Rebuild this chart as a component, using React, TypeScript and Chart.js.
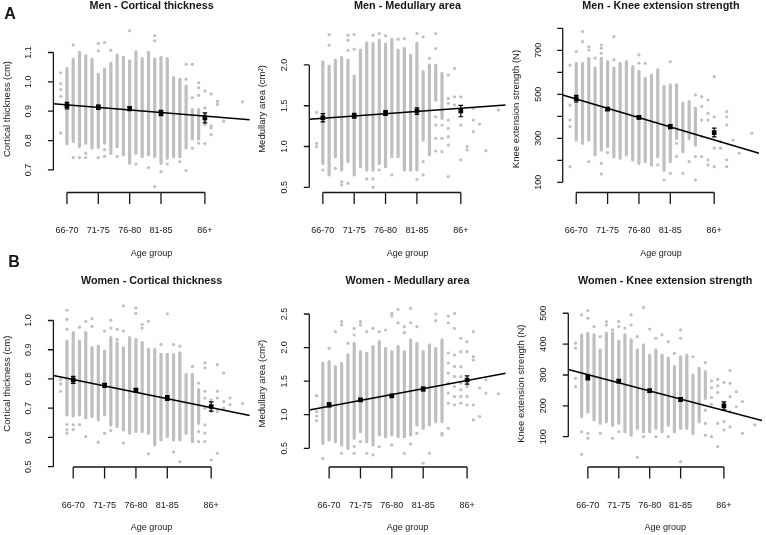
import React, { useEffect, useRef } from 'react';
import { Chart, registerables } from 'chart.js';

Chart.register(...registerables);

const W = 766;
const H = 535;

// ---------- shared categories ----------
const groupAges = [68, 73, 78, 83, 90];
const groupLabels = ['66-70', '71-75', '76-80', '81-85', '86+'];
const menAges = [67, 68, 69, 70, 71, 72, 73, 74, 75, 76, 77, 78, 79, 80, 81, 82, 83, 84, 85, 86, 87, 88, 89, 90, 91, 92, 93, 94, 95, 96];
const womenAges = [66, 67, 68, 69, 70, 71, 72, 73, 74, 75, 76, 77, 78, 79, 80, 81, 82, 83, 84, 85, 86, 87, 88, 89, 90, 91, 92, 93, 94, 95];
const menXRange = [65.84, 97.16];
const womenXRange = [64.84, 96.16];

// ---------- Men - Cortical thickness ----------
const menCtLo = [null, 0.783, 0.791, 0.774, 0.786, 0.769, 0.772, 0.786, 0.751, 0.774, 0.746, 0.717, 0.751, 0.74, 0.746, 0.74, 0.717, 0.734, 0.74, 0.74, 0.769, 0.8, 0.8, null, null, null, null, null, null, null];
const menCtHi = [null, 1.051, 1.083, 1.106, 1.094, 1.083, 1.031, 1.049, 1.069, 1.097, 1.089, 1.077, 1.108, 1.085, 1.106, 1.083, 1.089, 1.085, 1.02, 1.014, 0.991, 0.911, 0.911, null, null, null, null, null, null, null];
const menCtDots = [
  [1.031, 0.994, 0.974, 0.951, 0.826], [], [1.126, 0.742], [0.742], [0.757, 0.742], [], [1.131, 1.106, 0.742],
  [1.134, 0.769, 0.746], [1.108], [0.746], [], [1.174], [0.72], [], [0.708], [1.157, 1.14, 0.643], [0.694],
  [0.72], [], [0.728], [1.06, 1.009, 0.698], [1.06, 0.946, 0.83, 0.774], [0.997, 0.98, 0.954, 0.791],
  [0.969, 0.911, 0.889, 0.866, 0.854, 0.79], [0.959, 0.85, 0.843, 0.82], [0.934, 0.923], [0.866], [], [], [0.932],
];
const menCtMean = [0.919, 0.914, 0.909, 0.894, 0.877];
const menCtCi = [0.011, 0.007, 0.007, 0.009, 0.017];
const menCtLine = [0.925, 0.871];
const menCtTicks = [0.7, 0.8, 0.9, 1.0, 1.1];
const menCtTickLabels = ['0.7', '0.8', '0.9', '1.0', '1.1'];

// ---------- Men - Medullary area ----------
const menMaLo = [null, 0.773, 0.631, 0.855, 0.692, 0.794, 0.631, 0.733, 0.692, 0.692, 0.773, 0.733, 0.855, 0.855, 0.692, 0.692, 0.692, 1.059, 0.876, 1.549, 1.324, null, null, null, null, null, null, null, null, null];
const menMaHi = [null, 2.059, 2.006, 2.08, 2.112, 2.08, 1.884, 2.202, 2.292, 2.284, 2.324, 2.276, 2.333, 2.202, 2.222, 2.141, 2.284, 1.937, 2.018, 2.018, 1.916, null, null, null, null, null, null, null, null, null];
const menMaDots = [
  [1.418, 1.039, 0.998], [0.712], [2.373, 2.243], [0.733], [0.569, 0.529], [2.365, 2.304, 2.18, 0.549],
  [2.373, 2.194], [], [0.602], [2.365, 0.602, 0.5], [2.386, 0.712], [2.357], [0.651], [2.316], [2.324], [],
  [2.386, 0.598], [2.345, 0.814, 0.651], [2.08], [2.386, 2.202, 1.365, 1.263, 1.1, 0.945], [1.263, 1.1, 0.937],
  [1.876, 1.59, 1.529, 1.324, 1.222, 1.12, 1.018, 0.631], [1.957, 1.61, 1.508], [1.61, 1.263, 0.835],
  [0.998, 0.957], [1.467, 1.324, 1.182], [1.276], [0.949], [], [1.447],
];
const menMaMean = [1.353, 1.378, 1.41, 1.435, 1.435];
const menMaCi = [0.05, 0.03, 0.03, 0.04, 0.07];
const menMaLine = [1.333, 1.508];
const menMaTicks = [0.5, 1.0, 1.5, 2.0];
const menMaTickLabels = ['0.5', '1.0', '1.5', '2.0'];

// ---------- Men - Knee extension strength ----------
const menKsLo = [null, 285, 270, 285, 217, 239, 255, 209, 202, 217, 194, 179, 186, 171, 209, 148, 186, 292, 232, 292, 262, null, null, null, null, null, null, null, null, null];
const menKsHi = [null, 648, 648, 671, 626, 671, 656, 626, 648, 656, 633, 611, 580, 595, 618, 542, 550, 550, 467, 474, 444, null, null, null, null, null, null, null, null, null];
const menKsDots = [
  [633, 451, 383, 353, 171], [694], [785, 739], [717, 701, 194], [664], [724, 709, 686, 186, 138], [235],
  [762, 656], [], [], [], [679, 641], [641], [], [179], [111], [648, 141], [277, 217], [141], [194],
  [497, 217, 111], [489, 444, 383, 308, 217], [474, 414, 383, 202, 179], [580, 398, 255, 171], [285, 255],
  [421, 398, 361, 202, 171], [292], [232], [], [323],
];
const menKsMean = [480, 433, 395, 353, 326];
const menKsCi = [15, 7, 7, 9, 20];
const menKsLine = [497, 232];
const menKsTicks = [100, 200, 300, 400, 500, 600, 700, 800];
const menKsTickLabels = ['100', '', '300', '', '500', '', '700', ''];

// ---------- Women - Cortical thickness ----------
const womenCtLo = [null, 0.672, 0.668, 0.672, 0.661, 0.666, 0.655, 0.672, 0.637, 0.632, 0.62, 0.609, 0.615, 0.615, 0.609, 0.569, 0.586, 0.598, 0.586, 0.586, 0.609, 0.58, 0.643, null, null, null, null, null, null, null];
const womenCtHi = [null, 0.935, 0.964, 0.935, 0.964, 0.913, 0.918, 0.901, 0.947, 0.929, 0.912, 0.947, 0.941, 0.93, 0.907, 0.907, 0.89, 0.89, 0.89, 0.895, 0.821, 0.821, 0.769, null, null, null, null, null, null, null];
const womenCtDots = [
  [0.798, 0.783, 0.758], [1.035, 1.004, 0.97, 0.644, 0.626, 0.614], [0.643, 0.627], [0.977, 0.644], [0.997, 0.603],
  [1.006, 0.98], [0.584], [0.964, 0.614], [1.001, 0.974, 0.624], [0.97, 0.935], [1.05, 0.964, 0.581], [],
  [1.042, 1.024], [0.987, 0.974], [0.997, 0.544], [], [0.918], [1.023], [0.918, 0.551], [0.912, 0.517], [],
  [0.843], [0.786, 0.62, 0.586], [0.855, 0.838, 0.758, 0.735, 0.7, 0.643, 0.615, 0.586], [0.729, 0.706, 0.689, 0.523],
  [0.849, 0.758, 0.735, 0.689, 0.546], [0.82, 0.723, 0.7], [0.735, 0.712], [], [0.716],
];
const womenCtMean = [0.797, 0.778, 0.761, 0.735, 0.706];
const womenCtCi = [0.012, 0.007, 0.007, 0.008, 0.016];
const womenCtLine = [0.812, 0.675];
const womenCtTicks = [0.5, 0.6, 0.7, 0.8, 0.9, 1.0];
const womenCtTickLabels = ['0.5', '0.6', '0.7', '0.8', '0.9', '1.0'];

// ---------- Women - Medullary area ----------
const womenMaLo = [null, 0.55, 0.6, 0.575, 0.525, 0.475, 0.624, 0.723, 0.574, 0.525, 0.674, 0.649, 0.674, 0.649, 0.649, 0.674, 0.823, 0.774, 0.823, 0.872, 0.872, null, null, null, null, null, null, null, null, null];
const womenMaHi = [null, 1.79, 1.816, 1.742, 1.79, 1.914, 2.087, 1.964, 1.939, 2.038, 2.112, 2.013, 1.964, 2.038, 1.964, 2.138, 2.088, 1.964, 2.063, 2.014, 2.138, null, null, null, null, null, null, null, null, null];
const womenMaDots = [
  [1.284, 1.045, 0.98, 0.912], [0.351], [1.989], [2.237], [2.386, 2.337, 0.426], [2.063], [2.286, 2.187, 0.525, 0.426],
  [2.386, 2.337, 0.599], [2.237, 0.426], [2.286, 0.401], [2.237, 0.525], [2.262], [2.509, 2.47, 0.55], [2.569, 2.37],
  [2.311, 2.222, 0.426], [2.584, 2.37, 0.565], [2.311, 0.723], [0.277], [0.426], [2.5, 2.4], [0.723, 0.698],
  [2.47, 2.37, 1.919, 1.77, 1.62, 1.471, 1.322, 1.172, 0.798], [2.509, 2.286, 1.889, 1.72, 1.57, 1.42, 1.27, 1.148],
  [2.138, 1.939, 1.716, 1.566, 1.471, 1.372, 1.272, 1.172], [2.088, 1.939, 1.422, 1.272, 1.148],
  [2.237, 1.864, 1.814, 1.148, 0.922], [1.397, 0.972], [1.521, 1.322], [], [1.312],
];
const womenMaMean = [1.145, 1.22, 1.28, 1.383, 1.517];
const womenMaCi = [0.03, 0.02, 0.02, 0.03, 0.062];
const womenMaLine = [1.07, 1.617];
const womenMaTicks = [0.5, 1.0, 1.5, 2.0, 2.5];
const womenMaTickLabels = ['0.5', '1.0', '1.5', '2.0', '2.5'];

// ---------- Women - Knee extension strength ----------
const womenKsLo = [null, 160, 175, 149, 138, 143, 132, 138, 111, 100, 122, 111, 111, 122, 111, 132, 111, 122, 122, 105, 143, 219, null, null, null, null, null, null, null, null];
const womenKsHi = [null, 435, 440, 435, 387, 441, 441, 414, 435, 419, 387, 403, 370, 387, 370, 360, 332, 365, 370, 305, 327, 316, null, null, null, null, null, null, null, null];
const womenKsDots = [
  [403, 387, 289, 262], [495, 116, 43], [509, 484, 111, 95], [457], [424, 111], [473, 462], [446, 95],
  [473, 457, 116], [452], [495, 462], [424, 33], [519, 100], [449], [419, 100], [430], [408, 100], [370],
  [446, 419, 19], [], [359], [], [340, 186, 143, 105], [281, 259, 227, 205, 100], [286, 265, 243, 143, 68],
  [276, 211, 200, 149, 122], [314, 273, 230, 181, 132], [246, 197], [214, 111], [], [138],
];
const womenKsMean = [292, 280, 249, 221, 200];
const womenKsCi = [8, 5, 5, 6, 13];
const womenKsLine = [318, 152];
const womenKsTicks = [100, 200, 300, 400, 500];
const womenKsTickLabels = ['100', '200', '300', '400', '500'];

// ---------- panel layout ----------
type Panel = {
  title: string;
  yTitle: string;
  letter?: string;
  letterPos?: number[];
  ages: number[];
  xRange: number[];
  yRange: number[];
  lo: (number | null)[];
  hi: (number | null)[];
  dots: number[][];
  mean: number[];
  ci: number[];
  line: number[];
  ticks: number[];
  tickLabels: string[];
  box: number[]; // left, top, right, bottom (pixels)
};

const TOP_ROW = [25.5, 192.5];
const BOT_ROW = [300.3, 467];

const panels: Panel[] = [
  {
    title: 'Men - Cortical thickness', yTitle: 'Cortical thickness (cm)', letter: 'A', letterPos: [10, 15],
    ages: menAges, xRange: menXRange, yRange: [0.623, 1.192],
    lo: menCtLo, hi: menCtHi, dots: menCtDots, mean: menCtMean, ci: menCtCi, line: menCtLine,
    ticks: menCtTicks, tickLabels: menCtTickLabels, box: [53.4, TOP_ROW[0], 249.8, TOP_ROW[1]],
  },
  {
    title: 'Men - Medullary area', yTitle: 'Medullary area (cm\u00B2)',
    ages: menAges, xRange: menXRange, yRange: [0.436, 2.484],
    lo: menMaLo, hi: menMaHi, dots: menMaDots, mean: menMaMean, ci: menMaCi, line: menMaLine,
    ticks: menMaTicks, tickLabels: menMaTickLabels, box: [309.3, TOP_ROW[0], 505.7, TOP_ROW[1]],
  },
  {
    title: 'Men - Knee extension strength', yTitle: 'Knee extension strength (N)',
    ages: menAges, xRange: menXRange, yRange: [53.6, 812.7],
    lo: menKsLo, hi: menKsHi, dots: menKsDots, mean: menKsMean, ci: menKsCi, line: menKsLine,
    ticks: menKsTicks, tickLabels: menKsTickLabels, box: [562.7, TOP_ROW[0], 759.1, TOP_ROW[1]],
  },
  {
    title: 'Women - Cortical thickness', yTitle: 'Cortical thickness (cm)', letter: 'B', letterPos: [14, 263],
    ages: womenAges, xRange: womenXRange, yRange: [0.499, 1.069],
    lo: womenCtLo, hi: womenCtHi, dots: womenCtDots, mean: womenCtMean, ci: womenCtCi, line: womenCtLine,
    ticks: womenCtTicks, tickLabels: womenCtTickLabels, box: [53.4, BOT_ROW[0], 249.8, BOT_ROW[1]],
  },
  {
    title: 'Women - Medullary area', yTitle: 'Medullary area (cm\u00B2)',
    ages: womenAges, xRange: womenXRange, yRange: [0.2215, 2.704],
    lo: womenMaLo, hi: womenMaHi, dots: womenMaDots, mean: womenMaMean, ci: womenMaCi, line: womenMaLine,
    ticks: womenMaTicks, tickLabels: womenMaTickLabels, box: [309.3, BOT_ROW[0], 505.7, BOT_ROW[1]],
  },
  {
    title: 'Women - Knee extension strength', yTitle: 'Knee extension strength (N)',
    ages: womenAges, xRange: womenXRange, yRange: [1.8, 542],
    lo: womenKsLo, hi: womenKsHi, dots: womenKsDots, mean: womenKsMean, ci: womenKsCi, line: womenKsLine,
    ticks: womenKsTicks, tickLabels: womenKsTickLabels, box: [568.3, BOT_ROW[0], 764.7, BOT_ROW[1]],
  },
];

const GRAY = '#bfbfbf';
const INK = '#161616';
const FONT = '"Liberation Sans", Arial, Helvetica, sans-serif';

function makePlugin(p: Panel) {
  return {
    id: 'rStyleAxes',
    afterDatasetsDraw(chart: any) {
      const { ctx, chartArea: a } = chart;
      const x = chart.scales.x;
      const y = chart.scales.y;
      ctx.save();
      // error bars
      ctx.strokeStyle = '#000';
      ctx.lineWidth = 1.2;
      ctx.beginPath();
      p.mean.forEach((m, i) => {
        const px = x.getPixelForValue(groupAges[i]);
        const y1 = y.getPixelForValue(m - p.ci[i]);
        const y2 = y.getPixelForValue(m + p.ci[i]);
        ctx.moveTo(px, y1);
        ctx.lineTo(px, y2);
        ctx.moveTo(px - 2.3, y1);
        ctx.lineTo(px + 2.3, y1);
        ctx.moveTo(px - 2.3, y2);
        ctx.lineTo(px + 2.3, y2);
      });
      ctx.stroke();

      // axes (R style: span first to last tick)
      ctx.strokeStyle = INK;
      ctx.lineWidth = 1.3;
      ctx.beginPath();
      const ax = a.left;
      const yFirst = y.getPixelForValue(p.ticks[0]);
      const yLast = y.getPixelForValue(p.ticks[p.ticks.length - 1]);
      ctx.moveTo(ax, yFirst);
      ctx.lineTo(ax, yLast);
      p.ticks.forEach((t) => {
        const py = y.getPixelForValue(t);
        ctx.moveTo(ax, py);
        ctx.lineTo(ax - 5.5, py);
      });
      const by = a.bottom;
      const xFirst = x.getPixelForValue(groupAges[0]);
      const xLast = x.getPixelForValue(groupAges[groupAges.length - 1]);
      ctx.moveTo(xFirst, by);
      ctx.lineTo(xLast, by);
      groupAges.forEach((g) => {
        const px = x.getPixelForValue(g);
        ctx.moveTo(px, by);
        ctx.lineTo(px, by + 11.5);
      });
      ctx.stroke();

      // texts
      ctx.fillStyle = INK;
      ctx.textAlign = 'center';
      ctx.textBaseline = 'middle';
      ctx.font = `9px ${FONT}`;
      groupLabels.forEach((l, i) => {
        ctx.fillText(l, x.getPixelForValue(groupAges[i]), by + 38.5);
      });
      ctx.fillText('Age group', (a.left + a.right) / 2, by + 61);
      p.ticks.forEach((t, i) => {
        const lab = p.tickLabels[i];
        if (!lab) return;
        ctx.save();
        ctx.translate(ax - 24.5, y.getPixelForValue(t));
        ctx.rotate(-Math.PI / 2);
        ctx.fillText(lab, 0, 0);
        ctx.restore();
      });
      ctx.save();
      ctx.font = `9.5px ${FONT}`;
      ctx.translate(ax - 46.5, (a.top + a.bottom) / 2);
      ctx.rotate(-Math.PI / 2);
      ctx.fillText(p.yTitle, 0, 0);
      ctx.restore();

      ctx.font = `bold 10.8px ${FONT}`;
      ctx.fillText(p.title, (a.left + a.right) / 2, a.top - 19);
      if (p.letter && p.letterPos) {
        ctx.font = `bold 16px ${FONT}`;
        ctx.fillText(p.letter, p.letterPos[0], p.letterPos[1]);
      }
      ctx.restore();
    },
  };
}

function buildConfig(p: Panel): any {
  const strips: any[] = [];
  p.ages.forEach((age, i) => {
    const lo = p.lo[i];
    const hi = p.hi[i];
    if (lo !== null && hi !== null) strips.push({ x: age, y: [lo, hi] });
  });
  const dots: any[] = [];
  p.ages.forEach((age, i) => {
    (p.dots[i] || []).forEach((v) => dots.push({ x: age, y: v }));
  });
  const means = groupAges.map((g, i) => ({ x: g, y: p.mean[i] }));
  const line = p.xRange.map((xv, i) => ({ x: xv, y: p.line[i] }));
  return {
    type: 'scatter',
    data: {
      datasets: [
        {
          type: 'bar', data: strips, backgroundColor: GRAY, barThickness: 3.2, borderRadius: 1.6,
          borderSkipped: false, borderWidth: 0, inflateAmount: 0, grouped: false, order: 3,
        },
        { type: 'scatter', data: dots, backgroundColor: GRAY, pointRadius: 1.6, borderWidth: 0, order: 2 },
        {
          type: 'line', data: line, borderColor: '#000', borderWidth: 1.5, pointRadius: 0,
          fill: false, tension: 0, order: 1,
        },
        {
          type: 'scatter', data: means, backgroundColor: '#000', pointStyle: 'rect', pointRadius: 3.3,
          borderWidth: 0, order: 0,
        },
      ],
    },
    options: {
      animation: false,
      responsive: false,
      maintainAspectRatio: false,
      devicePixelRatio: 1,
      events: [],
      layout: { padding: { left: p.box[0], top: p.box[1], right: W - p.box[2], bottom: H - p.box[3] } },
      plugins: { legend: { display: false }, tooltip: { enabled: false }, title: { display: false } },
      scales: {
        x: { type: 'linear', display: false, min: p.xRange[0], max: p.xRange[1], offset: false, grid: { offset: false } },
        y: { type: 'linear', display: false, min: p.yRange[0], max: p.yRange[1], beginAtZero: false },
      },
    },
    plugins: [makePlugin(p)],
  };
}

function PanelChart({ p }: { p: Panel }) {
  const ref = useRef<HTMLCanvasElement | null>(null);
  useEffect(() => {
    if (!ref.current) return;
    const chart = new Chart(ref.current, buildConfig(p));
    return () => chart.destroy();
  }, [p]);
  return (
    <canvas
      ref={ref}
      width={W}
      height={H}
      style={{ position: 'absolute', left: 0, top: 0, width: W, height: H }}
    />
  );
}

export default function App() {
  return (
    <div style={{ position: 'absolute', left: 0, top: 0, width: W, height: H, background: '#ffffff', overflow: 'hidden' }}>
      {panels.map((p, i) => (
        <PanelChart key={i} p={p} />
      ))}
    </div>
  );
}
